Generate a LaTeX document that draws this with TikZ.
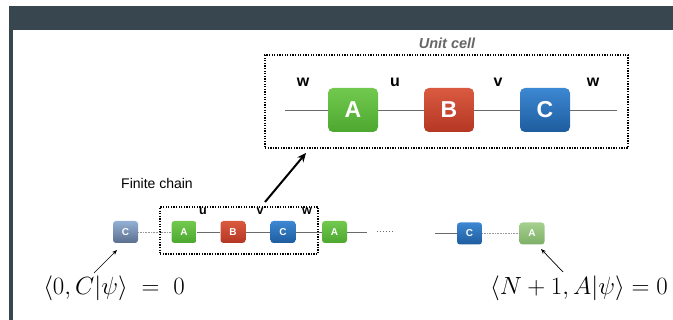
\documentclass[tikz,border=0pt]{standalone}
\usepackage{fontspec}
\setmainfont{Liberation Sans}
\usetikzlibrary{arrows.meta}
\definecolor{frame}{HTML}{37464F}
\definecolor{wire}{HTML}{6A6A6A}
\definecolor{greenT}{HTML}{72C94E}
\definecolor{greenB}{HTML}{4DA830}
\definecolor{redT}{HTML}{DA5A40}
\definecolor{redB}{HTML}{B43724}
\definecolor{blueT}{HTML}{3C88D2}
\definecolor{blueB}{HTML}{1E5C9E}
\definecolor{slateT}{HTML}{93B0D4}
\definecolor{slateB}{HTML}{5B6E8E}
\definecolor{paleT}{HTML}{A6D08F}
\definecolor{paleB}{HTML}{7DAF67}
\tikzset{
  bigsite/.style={rounded corners=5pt, minimum width=50pt, minimum height=44pt,
    inner sep=0pt, text=white, font=\fontsize{23}{23}\selectfont\bfseries},
  smallsite/.style={rounded corners=3pt, minimum width=25pt, minimum height=22pt,
    inner sep=0pt, text=white, font=\fontsize{10}{10}\selectfont\bfseries},
  sitegreen/.style={top color=greenT, bottom color=greenB},
  sitered/.style={top color=redT, bottom color=redB},
  siteblue/.style={top color=blueT, bottom color=blueB},
  siteslate/.style={top color=slateT, bottom color=slateB},
  sitepale/.style={top color=paleT, bottom color=paleB},
  bond/.style={draw=wire, line width=0.9pt},
  weakbond/.style={draw=wire!70, line width=0.8pt, dash pattern=on 1pt off 0.6pt},
  cellframe/.style={draw=black, line width=1.6pt, dash pattern=on 1.3pt off 1.3pt, inner sep=0pt},
  biglabel/.style={font=\fontsize{16}{16}\selectfont\bfseries},
  smalllabel/.style={font=\fontsize{12.5}{12.5}\selectfont\bfseries},
  mathlabel/.style={font=\fontsize{26.5}{30}\selectfont, inner sep=0pt},
}
\begin{document}
\begin{tikzpicture}[x=1pt,y=-1pt]
\useasboundingbox (0,0) rectangle (673,320);
% header band and left rule
\fill[frame] (9,6) rectangle (673,30);
\fill[frame] (9,30) rectangle (13,320);

% ---- unit cell ----
\node[cellframe, minimum width=363pt, minimum height=93pt] (cell) at (446.5,101.5) {};
\node[font=\fontsize{14.5}{14.5}\selectfont\bfseries\itshape, text=black!60] (celltitle) at (447,43) {Unit cell};
\coordinate (ul) at (285,110);
\coordinate (ur) at (617,110);
\node[bigsite, sitegreen] (UA) at (353,110) {A};
\node[bigsite, sitered]   (UB) at (449,110) {B};
\node[bigsite, siteblue]  (UC) at (545,110) {C};
\draw[bond] (ul) -- (UA) (UA) -- (UB) (UB) -- (UC) (UC) -- (ur);
\node[biglabel] (uw1) at (303,82) {w};
\node[biglabel] (uu)  at (395,82) {u};
\node[biglabel] (uv)  at (498,82) {v};
\node[biglabel] (uw2) at (593,82) {w};

% ---- finite chain ----
\node[font=\fontsize{14}{14}\selectfont] (chaintitle) at (157,183) {Finite chain};
\node[cellframe, minimum width=158pt, minimum height=47pt] (window) at (239,230.5) {};
\node[smallsite, siteslate] (C0) at (125.5,232) {C};
\node[smallsite, sitegreen] (A1) at (184,232) {A};
\node[smallsite, sitered]   (B1) at (233,232) {B};
\node[smallsite, siteblue]  (C1) at (283,232) {C};
\node[smallsite, sitegreen] (A2) at (334.5,232) {A};
\node[smallsite, siteblue]  (CN) at (469.5,233.5) {C};
\node[smallsite, sitepale]  (AN) at (532,233.5) {A};
\coordinate (tailA) at (367,232);
\coordinate (dotsL) at (377,232);
\coordinate (dotsR) at (395,232);
\coordinate (headC) at (435,233.5);
\draw[weakbond] (C0) -- (A1);
\draw[bond] (A1) -- (B1) (B1) -- (C1) (C1) -- (A2) (A2) -- (tailA);
\draw[draw=wire, line width=1pt, dash pattern=on 1pt off 2pt] (dotsL) -- (dotsR);
\draw[bond] (headC) -- (CN);
\draw[weakbond] (CN) -- (AN);
\node[smalllabel] (cu) at (203,211) {u};
\node[smalllabel] (cv) at (260,211) {v};
\node[smalllabel] (cw) at (307,211) {w};

% window to unit cell
\coordinate (zoomfrom) at (265,202);
\coordinate (zoomto) at (306,153);
\draw[line width=2pt, -{Stealth[length=9pt,width=8pt]}] (zoomfrom) -- (zoomto);

% boundary conditions
\node[mathlabel] (bcL) at (114,288) {$\langle 0, C|\psi\rangle \;=\; 0$};
\node[mathlabel] (bcR) at (579,288) {$\langle N+1, A|\psi\rangle = 0$};
\coordinate (bcLfoot) at (94,273);
\coordinate (bcLtip) at (117,250);
\coordinate (bcRfoot) at (563,272);
\coordinate (bcRtip) at (541,249);
\draw[line width=0.7pt, -{Stealth[length=5pt,width=4pt]}] (bcLfoot) -- (bcLtip);
\draw[line width=0.7pt, -{Stealth[length=5pt,width=4pt]}] (bcRfoot) -- (bcRtip);
\end{tikzpicture}
\end{document}
